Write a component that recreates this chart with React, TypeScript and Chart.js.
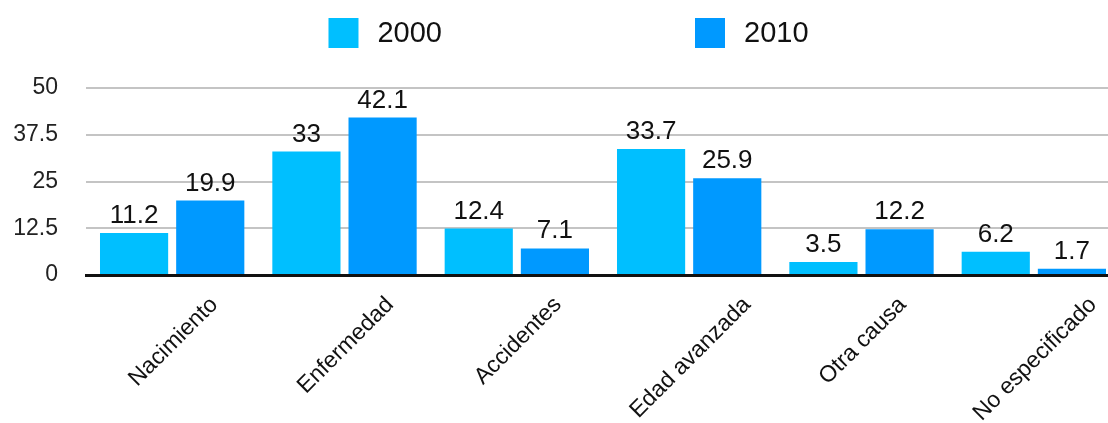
import React, { useEffect, useRef } from "react";
import { Chart, registerables } from "chart.js";

Chart.register(...registerables);

const categories = ["Nacimiento", "Enfermedad", "Accidentes", "Edad avanzada", "Otra causa", "No especificado"];
const seriesLabels = ["2000", "2010"];
const values2000 = [11.2, 33, 12.4, 33.7, 3.5, 6.2];
const values2010 = [19.9, 42.1, 7.1, 25.9, 12.2, 1.7];
const yTicks = [0, 12.5, 25, 37.5, 50];
const colors = ["#00bfff", "#0099ff"];

const FONT = '"Liberation Sans", Arial, Helvetica, sans-serif';

const dataLabelPlugin = {
  id: "dataLabels",
  afterDatasetsDraw(chart: any) {
    const ctx = chart.ctx;
    ctx.save();
    ctx.font = `26px ${FONT}`;
    ctx.fillStyle = "#111";
    ctx.textAlign = "center";
    ctx.textBaseline = "alphabetic";
    chart.data.datasets.forEach((ds: any, di: number) => {
      const meta = chart.getDatasetMeta(di);
      meta.data.forEach((el: any, i: number) => {
        ctx.fillText(String(ds.data[i]), el.x, el.y - 10);
      });
    });
    ctx.restore();
  },
};

// Rotated category labels, each centred on its tick (bounding box top just under the axis)
const categoryLabelPlugin = {
  id: "categoryLabels",
  afterDraw(chart: any) {
    const ctx = chart.ctx;
    const xScale = chart.scales.x;
    const size = 23;
    ctx.save();
    ctx.font = `${size}px ${FONT}`;
    ctx.fillStyle = "#111";
    ctx.textAlign = "center";
    ctx.textBaseline = "alphabetic";
    const top = xScale.top + 19;
    chart.data.labels.forEach((lab: string, i: number) => {
      const x = xScale.getPixelForTick(i);
      const L = ctx.measureText(lab).width;
      const h = size * 0.72;
      const boxH = (L + h) * Math.SQRT1_2;
      ctx.save();
      ctx.translate(x, top + boxH / 2);
      ctx.rotate(-Math.PI / 4);
      ctx.fillText(lab, 0, h / 2);
      ctx.restore();
    });
    ctx.restore();
  },
};

const legendPlugin = {
  id: "customLegend",
  afterDraw(chart: any) {
    const ctx = chart.ctx;
    ctx.save();
    ctx.font = `29px ${FONT}`;
    const box = 30;
    const textGap = 19;
    const itemGap = 253;
    const items = chart.data.datasets.map((ds: any) => ({
      label: ds.label,
      color: ds.backgroundColor,
      w: box + textGap + ctx.measureText(ds.label).width,
    }));
    const total = items.reduce((s: number, it: any) => s + it.w, 0) + itemGap * (items.length - 1);
    let x = chart.width / 2 - total / 2;
    const cy = 33;
    items.forEach((it: any) => {
      ctx.fillStyle = it.color;
      ctx.fillRect(x, cy - box / 2, box, box);
      ctx.fillStyle = "#111";
      ctx.textAlign = "left";
      ctx.textBaseline = "middle";
      ctx.fillText(it.label, x + box + textGap, cy + 1);
      x += it.w + itemGap;
    });
    ctx.restore();
  },
};

export default function App() {
  const ref = useRef<HTMLCanvasElement>(null);
  useEffect(() => {
    if (!ref.current) return;
    const chart = new Chart(ref.current, {
      type: "bar",
      data: {
        labels: categories,
        datasets: [
          { label: seriesLabels[0], data: values2000, backgroundColor: colors[0], categoryPercentage: 0.884, barPercentage: 0.895 },
          { label: seriesLabels[1], data: values2010, backgroundColor: colors[1], categoryPercentage: 0.884, barPercentage: 0.895 },
        ],
      },
      options: {
        responsive: false,
        animation: false,
        layout: { padding: { top: 88, right: 17, left: 0, bottom: 0 } },
        plugins: { legend: { display: false }, tooltip: { enabled: false } },
        scales: {
          x: {
            grid: { display: false, drawTicks: false },
            border: { display: true, color: "#111", width: 3 },
            ticks: { display: false, autoSkip: false },
            afterFit(scale: any) {
              scale.height = 148;
            },
          },
          y: {
            min: 0,
            max: 50,
            afterBuildTicks(scale: any) {
              scale.ticks = yTicks.map((v) => ({ value: v }));
            },
            grid: {
              drawTicks: false,
              lineWidth: 2,
              color: (c: any) => (c.tick && c.tick.value === 0 ? "rgba(0,0,0,0)" : "#c4c4c4"),
            },
            border: { display: false },
            ticks: {
              padding: 28,
              color: "#222",
              font: { family: FONT, size: 23 },
              callback: (v: any) => String(v),
            },
            afterFit(scale: any) {
              scale.width = 86;
            },
          },
        },
      },
      plugins: [dataLabelPlugin, categoryLabelPlugin, legendPlugin],
    });
    return () => chart.destroy();
  }, []);
  return (
    <div style={{ position: "absolute", left: 0, top: 0, width: 1108, height: 423, overflow: "hidden", background: "#fff" }}>
      <canvas ref={ref} width={1137} height={423} style={{ width: 1137, height: 423, display: "block" }} />
    </div>
  );
}
